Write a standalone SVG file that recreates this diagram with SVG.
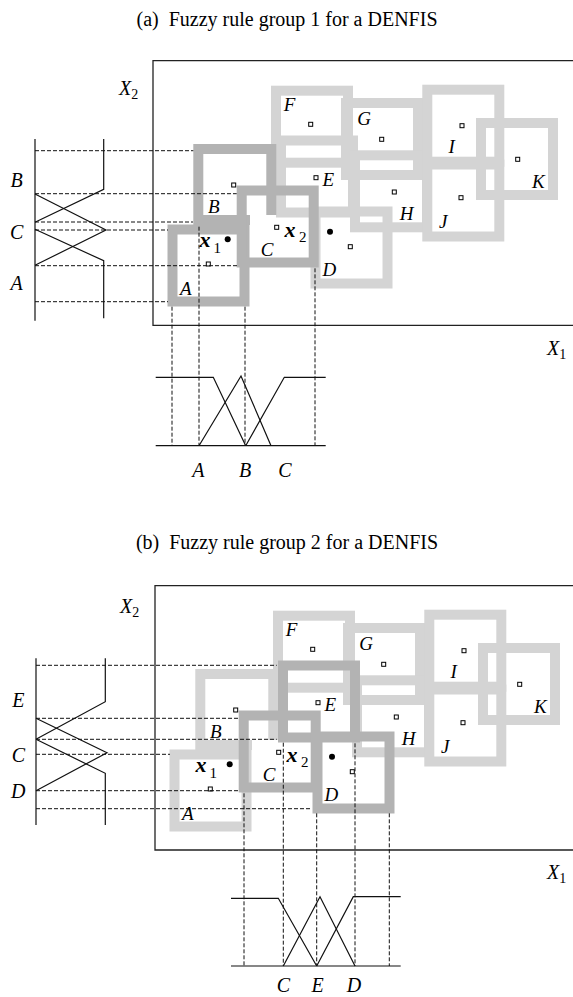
<svg xmlns="http://www.w3.org/2000/svg" width="573" height="997" viewBox="0 0 573 997">
<style>
.bx{fill:none;stroke-width:10;stroke-linejoin:miter}
.light{stroke:#d4d4d4}
.dark{stroke:#b3b3b3}
.pt{fill:#fff;stroke:#000;stroke-width:1}
.dot{fill:#000}
.ln{fill:none;stroke:#111;stroke-width:1.2}
.frame{fill:none;stroke:#222;stroke-width:1.3}
.dash{fill:none;stroke:#111;stroke-width:1;stroke-dasharray:4 2}
.t{font-family:"Liberation Serif","Times New Roman",serif;fill:#000}
.title{font-size:20px;text-anchor:middle}
.lb{font-style:italic;font-size:19px;text-anchor:middle}
.ax{font-style:italic;font-size:20px;text-anchor:middle}
.axs{font-style:italic;font-size:20px;text-anchor:start}
.sub{font-style:normal;font-size:14px}
.vx{font-style:italic;font-weight:bold;font-size:22px}
.vs{font-style:normal;font-weight:normal;font-size:15px}
</style>
<rect width="573" height="997" fill="#fff"/>

<!-- Panel (a) -->
<text class="t title" x="287" y="26">(a)&#160; Fuzzy rule group 1 for a DENFIS</text>
<path class="frame" d="M573,60.7 H153 V325.3 H573"/>
<text class="t axs" x="119" y="95">X<tspan class="sub" dy="4">2</tspan></text>
<text class="t axs" x="547" y="355">X<tspan class="sub" dy="4">1</tspan></text>

<g id="a-nodes">
  <g id="a-D"><rect class="bx light" x="315.5" y="211.5" width="72" height="72"/></g>
  <g id="a-E"><rect class="bx light" x="281" y="140.5" width="72" height="72"/></g>
  <g id="a-F"><rect class="bx light" x="276" y="90.7" width="72" height="72"/></g>
  <g id="a-G"><rect class="bx light" x="346" y="103" width="72" height="72"/></g>
  <g id="a-H"><rect class="bx light" x="355" y="155.3" width="72" height="72"/></g>
  <g id="a-I"><rect class="bx light" x="427.3" y="89.7" width="72" height="72"/></g>
  <g id="a-J"><rect class="bx light" x="427.3" y="164.5" width="72" height="72"/></g>
  <g id="a-K"><rect class="bx light" x="481" y="123" width="72" height="72"/></g>
  <g id="a-A"><rect class="bx dark" x="172.5" y="229.5" width="72" height="72"/></g>
  <g id="a-B"><path class="bx dark" d="M250,220 H198.3 V149 H271.3 V215"/></g>
  <g id="a-C"><rect class="bx dark" x="241.7" y="190.5" width="72" height="72"/></g>
  <g id="a-pts">
    <rect class="pt" x="231.7" y="183" width="4" height="4"/>
    <rect class="pt" x="206.3" y="262" width="4" height="4"/>
    <rect class="pt" x="274.7" y="225.3" width="4" height="4"/>
    <rect class="pt" x="308.7" y="122.3" width="4" height="4"/>
    <rect class="pt" x="379.7" y="137.3" width="4" height="4"/>
    <rect class="pt" x="314" y="175.7" width="4" height="4"/>
    <rect class="pt" x="392.3" y="190" width="4" height="4"/>
    <rect class="pt" x="460" y="123.7" width="4" height="4"/>
    <rect class="pt" x="459" y="195.7" width="4" height="4"/>
    <rect class="pt" x="515.7" y="157.3" width="4" height="4"/>
    <rect class="pt" x="348.3" y="244.7" width="4" height="4"/>
    <circle class="dot" cx="227.7" cy="239.3" r="3"/>
    <circle class="dot" cx="330" cy="231.7" r="3"/>
  </g>
  <g id="a-labels">
    <text class="t lb" x="289.5" y="110.8">F</text>
    <text class="t lb" x="364" y="125.3">G</text>
    <text class="t lb" x="328.3" y="186.3">E</text>
    <text class="t lb" x="213.7" y="213">B</text>
    <text class="t lb" x="267" y="255.5">C</text>
    <text class="t lb" x="185.7" y="294.6">A</text>
    <text class="t lb" x="329.3" y="275.6">D</text>
    <text class="t lb" x="406.7" y="220.3">H</text>
    <text class="t lb" x="451.7" y="153">I</text>
    <text class="t lb" x="443.3" y="228">J</text>
    <text class="t lb" x="538.3" y="188">K</text>
    <text class="t vx" x="199.5" y="246.7">x<tspan class="vs" x="213.5" y="253">1</tspan></text>
    <text class="t vx" x="284.5" y="236.7">x<tspan class="vs" x="299" y="241.7">2</tspan></text>
  </g>
</g>

<g id="a-connectors">
  <path class="ln" d="M35,139 V320.7"/>
  <path class="ln" d="M103.7,139 V189.3 L35,222.3"/>
  <path class="ln" d="M35,194 L106,230 L35,265.3"/>
  <path class="ln" d="M35,229.3 L103.7,260.7 V318.3"/>
  <path class="dash" d="M35,150.7 H193.3 M35,193.7 H236.7 M35,222 H193 M35,230 H168 M35,265.7 H237 M35,301.7 H168"/>
  <path class="dash" d="M172,306.7 V445.7 M199,226.7 V445.7 M245,306.7 V445.7 M315,268.3 V445.7"/>
  <path class="ln" d="M155.7,445.7 H325.7"/>
  <path class="ln" d="M155.7,377.3 H213.3 L245.7,445.7"/>
  <path class="ln" d="M199,445.7 L241,376 L271,445.7"/>
  <path class="ln" d="M245.7,445.7 L284.3,377.3 H325.7"/>
</g>
<g id="a-axis-labels">
  <text class="t ax" x="16.7" y="186.7">B</text>
  <text class="t ax" x="16.7" y="239.3">C</text>
  <text class="t ax" x="16.7" y="290">A</text>
  <text class="t ax" x="198.3" y="477">A</text>
  <text class="t ax" x="245" y="477">B</text>
  <text class="t ax" x="285" y="477">C</text>
</g>

<!-- Panel (b) -->
<text class="t title" x="287" y="549">(b)&#160; Fuzzy rule group 2 for a DENFIS</text>
<path class="frame" d="M573,585.7 H155 V850 H573"/>
<text class="t axs" x="120" y="613.3">X<tspan class="sub" dy="4">2</tspan></text>
<text class="t axs" x="547" y="879">X<tspan class="sub" dy="4">1</tspan></text>

<g id="b-nodes" transform="translate(2,525)">
  <g id="b-A"><rect class="bx light" x="172.5" y="229.5" width="72" height="72"/></g>
  <g id="b-B"><path class="bx light" d="M250,220 H198.3 V149 H271.3 V215"/></g>
  <g id="b-F"><rect class="bx light" x="276" y="90.7" width="72" height="72"/></g>
  <g id="b-G"><rect class="bx light" x="346" y="103" width="72" height="72"/></g>
  <g id="b-H"><rect class="bx light" x="355" y="155.3" width="72" height="72"/></g>
  <g id="b-I"><rect class="bx light" x="427.3" y="89.7" width="72" height="72"/></g>
  <g id="b-J"><rect class="bx light" x="427.3" y="164.5" width="72" height="72"/></g>
  <g id="b-K"><rect class="bx light" x="481" y="123" width="72" height="72"/></g>
  <g id="b-E"><rect class="bx dark" x="281" y="140.5" width="72" height="72"/></g>
  <g id="b-C"><rect class="bx dark" x="241.7" y="190.5" width="72" height="72"/></g>
  <g id="b-D"><rect class="bx dark" x="315.5" y="211.5" width="72" height="72"/></g>
  <g id="b-pts">
    <rect class="pt" x="231.7" y="183" width="4" height="4"/>
    <rect class="pt" x="206.3" y="262" width="4" height="4"/>
    <rect class="pt" x="274.7" y="225.3" width="4" height="4"/>
    <rect class="pt" x="308.7" y="122.3" width="4" height="4"/>
    <rect class="pt" x="379.7" y="137.3" width="4" height="4"/>
    <rect class="pt" x="314" y="175.7" width="4" height="4"/>
    <rect class="pt" x="392.3" y="190" width="4" height="4"/>
    <rect class="pt" x="460" y="123.7" width="4" height="4"/>
    <rect class="pt" x="459" y="195.7" width="4" height="4"/>
    <rect class="pt" x="515.7" y="157.3" width="4" height="4"/>
    <rect class="pt" x="348.3" y="244.7" width="4" height="4"/>
    <circle class="dot" cx="227.7" cy="239.3" r="3"/>
    <circle class="dot" cx="330" cy="231.7" r="3"/>
  </g>
  <g id="b-labels">
    <text class="t lb" x="289.5" y="110.8">F</text>
    <text class="t lb" x="364" y="125.3">G</text>
    <text class="t lb" x="328.3" y="186.3">E</text>
    <text class="t lb" x="213.7" y="213">B</text>
    <text class="t lb" x="267" y="255.5">C</text>
    <text class="t lb" x="185.7" y="294.6">A</text>
    <text class="t lb" x="329.3" y="275.6">D</text>
    <text class="t lb" x="406.7" y="220.3">H</text>
    <text class="t lb" x="451.7" y="153">I</text>
    <text class="t lb" x="443.3" y="228">J</text>
    <text class="t lb" x="538.3" y="188">K</text>
    <text class="t vx" x="193.5" y="246.7">x<tspan class="vs" x="207.5" y="253">1</tspan></text>
    <text class="t vx" x="284.5" y="236.7">x<tspan class="vs" x="299" y="241.7">2</tspan></text>
  </g>
</g>

<g id="b-connectors">
  <path class="ln" d="M36,658.3 V825"/>
  <path class="ln" d="M105.3,658.3 V701.7 L36,739.3"/>
  <path class="ln" d="M36,718.3 L107,752.7 L36,790.7"/>
  <path class="ln" d="M36,739.3 L105.3,773.3 V825"/>
  <path class="dash" d="M36,665.3 H276.7 M36,718.3 H239.3 M36,739.3 H276.7 M36,754.3 H170 M36,790.7 H239.3 M36,808.7 H310"/>
  <path class="dash" d="M244,793.3 V966 M283.3,742.7 V966 M316.7,813.3 V966 M355,743.3 V966 M389.3,813.3 V966"/>
  <path class="ln" d="M231,966 H400.7"/>
  <path class="ln" d="M231,898.3 H278.3 L316.7,966"/>
  <path class="ln" d="M283.3,966 L320,896.7 L355,966"/>
  <path class="ln" d="M316.7,966 L353.3,896.7 H400.7"/>
</g>
<g id="b-axis-labels">
  <text class="t ax" x="18.3" y="706.7">E</text>
  <text class="t ax" x="18.3" y="761.7">C</text>
  <text class="t ax" x="18.3" y="798.3">D</text>
  <text class="t ax" x="283.3" y="992">C</text>
  <text class="t ax" x="317.7" y="992">E</text>
  <text class="t ax" x="354" y="992">D</text>
</g>
</svg>
